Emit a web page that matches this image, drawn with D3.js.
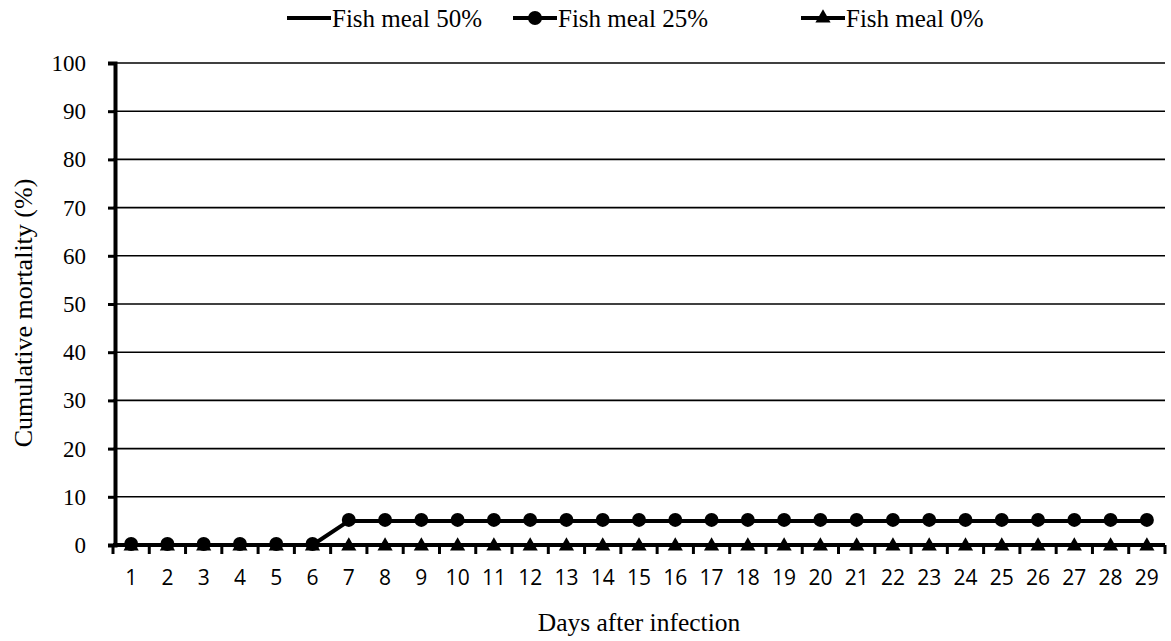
<!DOCTYPE html>
<html><head><meta charset="utf-8">
<script src="https://cdn.jsdelivr.net/npm/d3@7"></script>
<style>body{margin:0;background:#fff}svg{display:block}
.serif{font-family:"Liberation Serif","Times New Roman",Times,"DejaVu Serif",serif;fill:#000}
.sans{font-family:"Open Sans","Noto Sans","Liberation Sans",sans-serif;fill:#000}</style>
</head><body><svg id="c" width="1171" height="641"></svg>
<script>
const days = [1,2,3,4,5,6,7,8,9,10,11,12,13,14,15,16,17,18,19,20,21,22,23,24,25,26,27,28,29];
const fish50 = [0,0,0,0,0,0,0,0,0,0,0,0,0,0,0,0,0,0,0,0,0,0,0,0,0,0,0,0,0];
const fish25 = [0,0,0,0,0,0,5,5,5,5,5,5,5,5,5,5,5,5,5,5,5,5,5,5,5,5,5,5,5];
const fish0  = [0,0,0,0,0,0,0,0,0,0,0,0,0,0,0,0,0,0,0,0,0,0,0,0,0,0,0,0,0];
const yTicks = [0,10,20,30,40,50,60,70,80,90,100];
const seriesNames = ["Fish meal 50%","Fish meal 25%","Fish meal 0%"];

const svg = d3.select("#c");
const L = 113, R = 1165, T = 63, B = 545;
const x = d3.scaleBand().domain(days).range([L, R]);
const y = d3.scaleLinear().domain([0,100]).range([B, T]);

// gridlines
svg.append("g").selectAll("line").data(yTicks.filter(d=>d>0)).join("line")
  .attr("x1", L).attr("x2", R).attr("y1", d=>y(d)).attr("y2", d=>y(d))
  .attr("stroke","#000").attr("stroke-width",1.6);

// y axis
const yAxis = svg.append("g").attr("transform",`translate(${L+2},0)`)
  .call(d3.axisLeft(y).tickValues(yTicks).tickSize(7).tickPadding(22));
yAxis.attr("font-family",null).attr("font-size",null);
yAxis.select(".domain").attr("stroke-width",4);
yAxis.selectAll(".tick line").attr("stroke-width",3);
yAxis.selectAll("text").attr("class","serif").attr("font-size",23).attr("dy","0.33em");

// x axis
const xAxis = svg.append("g").attr("transform",`translate(0,${B})`)
  .call(d3.axisBottom(x).tickSize(0).tickPadding(25));
xAxis.attr("font-family",null).attr("font-size",null);
xAxis.select(".domain").attr("stroke-width",4).attr("d",`M${L},0H${R}`);
xAxis.selectAll("text").attr("class","sans").attr("font-size",21).attr("dy","0.35em").attr("y",33);
// boundary tick marks
const bounds = days.map(d=>x(d)).concat([R]);
xAxis.append("g").selectAll("line").data(bounds).join("line")
  .attr("x1",d=>d).attr("x2",d=>d).attr("y1",0).attr("y2",9)
  .attr("stroke","#000").attr("stroke-width",3);

const cx = d => x(d) + x.bandwidth()/2;
const line = d3.line().x((v,i)=>cx(days[i])).y(v=>y(v));

// series lines
[fish50, fish0, fish25].forEach(s=>{
  svg.append("path").datum(s).attr("d",line).attr("fill","none")
    .attr("stroke","#000").attr("stroke-width",4).attr("stroke-linejoin","round");
});
// triangles
const tri = d3.symbol().type(d3.symbolTriangle).size(100);
svg.append("g").selectAll("path").data(fish0).join("path")
  .attr("d",tri).attr("transform",(v,i)=>`translate(${cx(days[i])},${y(v)+1})`).attr("fill","#000");
// circles
svg.append("g").selectAll("circle").data(fish25).join("circle")
  .attr("cx",(v,i)=>cx(days[i])).attr("cy",v=>y(v)-1).attr("r",7).attr("fill","#000");

// axis titles
svg.append("text").attr("class","serif").attr("x",639).attr("y",631).attr("text-anchor","middle").attr("font-size",25.5).text("Days after infection");
svg.append("text").attr("class","serif").attr("transform","translate(32,313) rotate(-90)").attr("text-anchor","middle").attr("font-size",26).text("Cumulative mortality (%)");

// legend
const leg = [{x:287, m:null},{x:513, m:"c"},{x:801, m:"t"}];
leg.forEach((l,i)=>{
  const g = svg.append("g");
  g.append("line").attr("x1",l.x).attr("x2",l.x+44).attr("y1",18).attr("y2",18).attr("stroke","#000").attr("stroke-width",4);
  if(l.m==="c") g.append("circle").attr("cx",l.x+22).attr("cy",18).attr("r",7);
  if(l.m==="t") g.append("path").attr("d",tri).attr("transform",`translate(${l.x+22},18)`);
  g.append("text").attr("class","serif").attr("x",l.x+45).attr("y",27).attr("font-size",25).text(seriesNames[i]);
});
</script></body></html>
